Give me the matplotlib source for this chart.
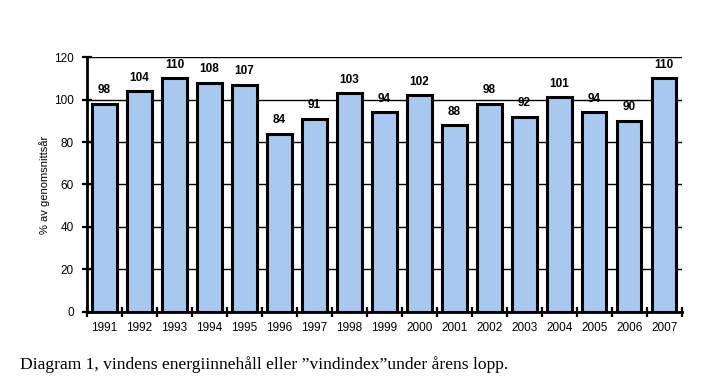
import matplotlib
matplotlib.use("Agg")
import matplotlib.pyplot as plt
import numpy as np

years = ["1991", "1992", "1993", "1994", "1995", "1996", "1997", "1998", "1999",
         "2000", "2001", "2002", "2003", "2004", "2005", "2006", "2007"]
values = [98, 104, 110, 108, 107, 84, 91, 103, 94, 102, 88, 98, 92, 101, 94, 90, 110]
yticks = [0, 20, 40, 60, 80, 100, 120]

plt.rcParams['font.family'] = ['Liberation Sans', 'DejaVu Sans']

fig = plt.figure(figsize=(7.26, 3.88), dpi=100)
ax = fig.add_axes([0.1198, 0.196, 0.8192, 0.657])

x = np.arange(len(years))
ax.bar(x, values, width=0.7, color="#A9C8F0", edgecolor="black", linewidth=2.2, zorder=3)

for xi, v in zip(x, values):
    ax.text(xi, v + 3.5, str(v), ha="center", va="bottom", fontsize=8.5, fontweight="bold")

ax.set_xlim(-0.5, len(years) - 0.5)
ax.set_ylim(0, 120)
ax.set_yticks(yticks)
ax.set_yticklabels([str(t) for t in yticks], fontsize=8.5)
ax.set_xticks(x)
ax.set_xticklabels(years, fontsize=8.5)
ax.set_xticks(np.arange(-0.5, len(years), 1), minor=True)
ax.tick_params(axis="x", which="major", length=0, pad=7)
ax.tick_params(axis="x", which="minor", length=7, width=1.6, direction="inout")
ax.tick_params(axis="y", which="major", length=7, width=1.6, direction="inout", pad=6)

ax.yaxis.grid(True, color="black", linewidth=1.0, zorder=0)
ax.set_axisbelow(True)
for s in ["top", "right"]:
    ax.spines[s].set_visible(False)
ax.spines["left"].set_linewidth(2)
ax.spines["bottom"].set_linewidth(2)

ax.set_ylabel("% av genomsnittsår", fontsize=8, labelpad=3)

fig.text(0.027, 0.038, "Diagram 1, vindens energiinnehåll eller \u201dvindindex\u201dunder årens lopp.",
         fontsize=12.6, family=["Liberation Serif", "DejaVu Serif"], ha="left", va="bottom")

fig.savefig("out.png", dpi=100)
